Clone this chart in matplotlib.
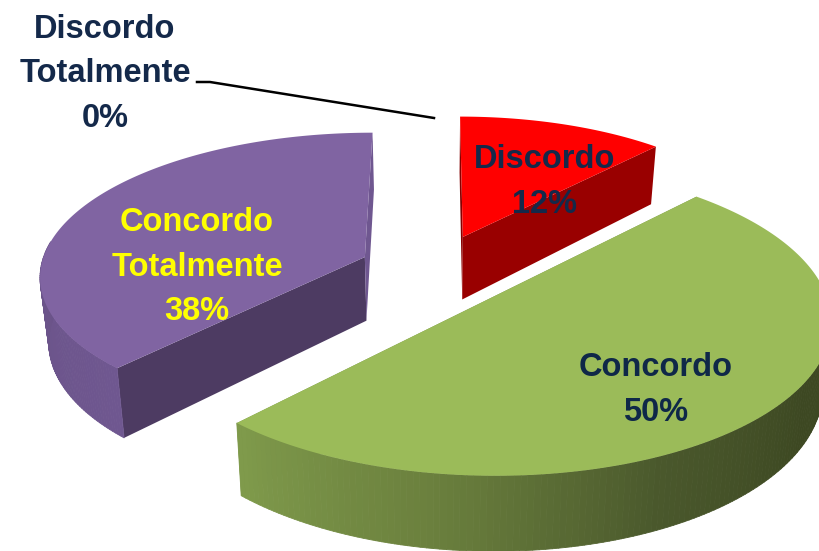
#!/usr/bin/env python3
"""Exploded 3D pie of agreement answers, drawn by hand with a simple perspective"""

import numpy as np
import matplotlib
matplotlib.use('Agg')
import matplotlib.pyplot as plt
from matplotlib.collections import PolyCollection
from matplotlib.colors import LinearSegmentedColormap

plt.rcParams['font.family'] = ['Liberation Sans', 'DejaVu Sans']

# data, clockwise from 12 o'clock
categories = ['Discordo\nTotalmente', 'Discordo', 'Concordo', 'Concordo\nTotalmente']
percents = [0, 12, 50, 38]

# style per slice
top_colors = ['#4F81BD', '#FF0000', '#9BBB59', '#8064A2']
start_face_colors = ['#2F4D71', '#850000', '#76924A', '#4D3B62']
stop_face_colors = ['#2F4D71', '#990000', '#76924A', '#6F5790']
side_stops = [None, ['#850000', '#850000'],
              ['#7F9A4B', '#6A7F3D', '#4A582C', '#3D4822', '#3D4822'],
              ['#6A5388', '#6F5790']]
text_colors = ['#14294A', '#14294A', '#0F2848', '#FFFF00']
explode_u = [0.0, 0.08, 0.15, -0.22]
explode_v = [0.0, 0.20, -0.24, 0.053]
scale_u = [1.0, 0.96, 1.0, 0.98]
scale_v = [1.0, 1.0, 1.03, 1.0]
label_x = [105, 545, 656, 197]
label_y = [74, 182, 390, 267]

# projection constants, pixels
X0, Y0 = 437, 264.5
RX, RY = 330, 141
PERSP = 0.12
DEPTH = 64
SHRINK = 0.022


def project(u, v, lower=False):
    """Plane coordinates to pixel coordinates, on the top or the bottom face"""
    s = 1.0 / (1.0 + PERSP * v)
    x = X0 + RX * u * s
    y = Y0 - RY * v * s
    if lower:
        x = X0 + (x - X0) * (1 - SHRINK)
        y = y + DEPTH * s
    return x, y


def draw_slice(ax, idx, start, stop):
    """Draw the faces of one slice, angles in degrees clockwise from the top"""
    du, dv = explode_u[idx], explode_v[idx]
    theta = np.radians(np.linspace(start, stop, 181))
    u = du + scale_u[idx] * np.sin(theta)
    v = dv + scale_v[idx] * np.cos(theta)

    tx, ty = project(u, v)
    bx, by = project(u, v, lower=True)
    ax_, ay_ = project(du, dv)
    cx_, cy_ = project(du, dv, lower=True)

    # face on the starting edge
    ax.fill([tx[0], ax_, cx_, bx[0]], [ty[0], ay_, cy_, by[0]],
            color=start_face_colors[idx], lw=0, zorder=1)

    # face on the closing edge
    ax.fill([ax_, tx[-1], bx[-1], cx_], [ay_, ty[-1], by[-1], cy_],
            color=stop_face_colors[idx], lw=0, zorder=1)

    # outer rim, only where it faces the viewer
    quads = []
    fracs = []
    for i in range(len(theta) - 1):
        if np.cos(theta[i]) > 0.1:
            continue
        quads.append([(tx[i], ty[i]), (tx[i + 1], ty[i + 1]),
                      (bx[i + 1], by[i + 1]), (bx[i], by[i])])
        fracs.append(i / (len(theta) - 1))
    if quads:
        cmap = LinearSegmentedColormap.from_list('side', side_stops[idx])
        fracs = np.array(fracs)
        fracs = (fracs - fracs.min()) / max(fracs.max() - fracs.min(), 1e-6)
        colors = cmap(1 - fracs)
        ax.add_collection(PolyCollection(quads, facecolors=colors, edgecolors=colors,
                                         linewidths=0.6, zorder=2))

    # top face
    ax.fill(np.r_[ax_, tx], np.r_[ay_, ty], color=top_colors[idx], lw=0, zorder=4)


def main():
    fig = plt.figure(figsize=(8.19, 5.51), dpi=100)
    ax = fig.add_axes([0, 0, 1, 1])
    ax.set_xlim(0, 819)
    ax.set_ylim(551, 0)
    ax.axis('off')

    edges = np.r_[0, np.cumsum(percents)] * 3.6
    for idx, pct in enumerate(percents):
        if pct > 0:
            draw_slice(ax, idx, edges[idx], edges[idx + 1])

    # leader line of the empty slice
    ax.plot([197, 210, 434], [82, 82, 118], color='black', lw=1.8, zorder=5)

    for idx, name in enumerate(categories):
        ax.text(label_x[idx], label_y[idx], f'{name}\n{percents[idx]}%',
                color=text_colors[idx], fontsize=23.5, fontweight='bold',
                ha='center', va='center', linespacing=1.55, zorder=6)

    fig.savefig('out.png', dpi=100)


if __name__ == "__main__":
    main()
